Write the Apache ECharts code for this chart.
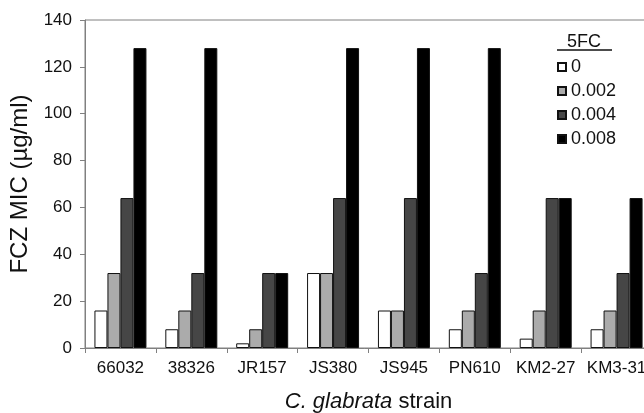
<!DOCTYPE html>
<html>
<head>
<meta charset="utf-8">
<script src="https://cdn.jsdelivr.net/npm/echarts@6/dist/echarts.min.js"></script>
<style>html,body{margin:0;padding:0;background:#fff;}#c{width:644px;height:413px;}</style>
</head>
<body>
<div id="c"></div>
<script>
const categories = ['66032','38326','JR157','JS380','JS945','PN610','KM2-27','KM3-31'];
const seriesNames = ['0','0.002','0.004','0.008'];
const s0 = [16, 8, 2, 32, 16, 8, 4, 8];
const s002 = [32, 16, 8, 32, 16, 16, 16, 16];
const s004 = [64, 32, 32, 64, 64, 32, 64, 32];
const s008 = [128, 128, 32, 128, 128, 128, 64, 64];
const yTicks = [0, 20, 40, 60, 80, 100, 120, 140];

const colors = ['#ffffff', '#ababab', '#464646', '#000000'];
const values = [s0, s002, s004, s008];
const FONT = 'Liberation Sans, Arial, sans-serif';

const chart = echarts.init(document.getElementById('c'), null, {renderer: 'canvas'});
chart.setOption({
  animation: false,
  backgroundColor: '#fff',
  textStyle: {fontFamily: FONT},
  grid: {left: 85, top: 20, width: 567, height: 328, show: true, borderColor: '#808080', borderWidth: 1, containLabel: false, outerBoundsMode: 'none'},
  legend: {
    orient: 'vertical', left: 557, top: 58, padding: 0, itemWidth: 8, itemHeight: 8, itemGap: 6,
    icon: 'rect',
    textStyle: {fontSize: 18, color: '#111', fontFamily: FONT},
    data: seriesNames
  },
  graphic: [
    {type: 'text', left: 567, top: 33, style: {text: '5FC', font: '18px ' + FONT, fill: '#111'}},
    {type: 'line', shape: {x1: 557, y1: 50, x2: 612, y2: 50}, style: {stroke: '#111', lineWidth: 1.5}}
  ],
  xAxis: {
    type: 'category', data: categories,
    axisLine: {show: true, lineStyle: {color: '#808080', width: 1}},
    axisTick: {show: true, length: 5, lineStyle: {color: '#808080'}},
    axisLabel: {fontSize: 17, color: '#111', margin: 12, interval: 0, fontFamily: FONT},
    name: '{i|C. glabrata} strain', nameLocation: 'middle', nameGap: 43,
    nameTextStyle: {fontSize: 22, color: '#111', fontFamily: FONT, rich: {i: {fontStyle: 'italic', fontSize: 22, color: '#111', fontFamily: FONT}}}
  },
  yAxis: {
    type: 'value', min: yTicks[0], max: yTicks[yTicks.length - 1], interval: yTicks[1] - yTicks[0],
    axisLine: {show: true, lineStyle: {color: '#808080', width: 1}},
    axisTick: {show: true, length: 5, lineStyle: {color: '#808080'}},
    axisLabel: {fontSize: 17, color: '#111', margin: 13, fontFamily: FONT},
    splitLine: {show: false},
    name: 'FCZ MIC (µg/ml)', nameLocation: 'middle', nameGap: 40,
    nameTextStyle: {fontSize: 24, color: '#111', fontFamily: FONT}
  },
  series: seriesNames.map((n, i) => ({
    name: n, type: 'bar', data: values[i], barWidth: 13, barGap: '0%',
    itemStyle: {color: colors[i], borderColor: '#111', borderWidth: 1}
  }))
});
</script>
</body>
</html>
